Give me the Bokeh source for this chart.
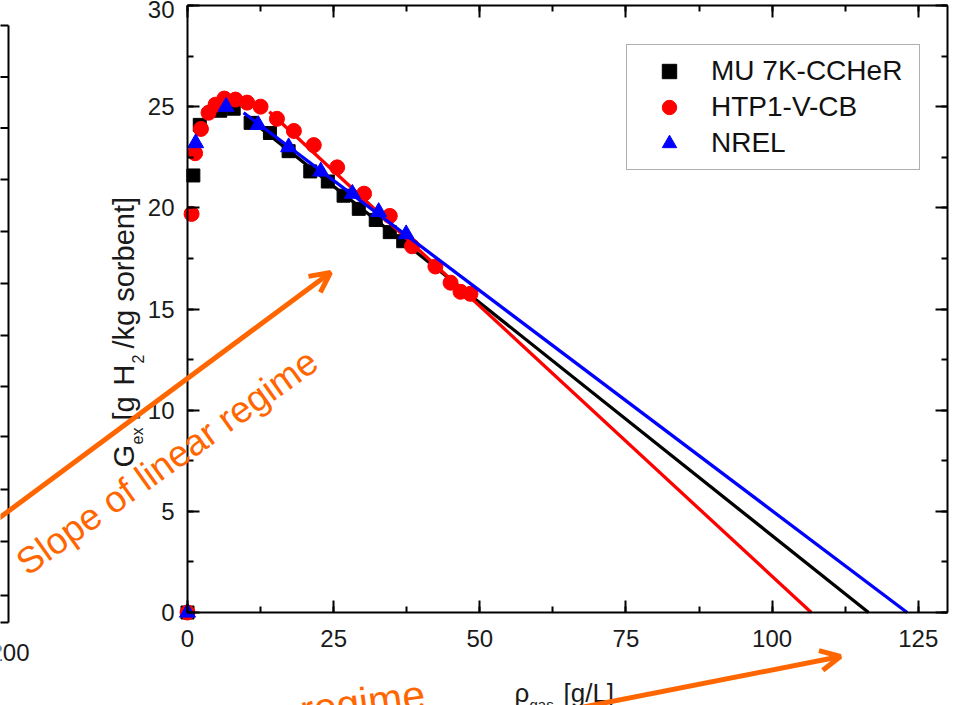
import math

from bokeh.embed import file_html
from bokeh.models import (Arrow, Label, Legend, LegendItem, LinearAxis, OpenHead,
                          Range1d, SingleIntervalTicker)
from bokeh.plotting import figure
from bokeh.resources import INLINE

# Excess hydrogen uptake G_ex [g H2 / kg sorbent] versus gas density rho_gas [g/L]
mu_rho = [0, 1.0, 2.1, 5.6, 7.9, 10.8, 14.1, 17.3, 21.0, 24.0, 26.7, 29.3, 32.2, 34.6, 36.9]
mu_gex = [0, 21.6, 24.1, 24.8, 24.9, 24.2, 23.7, 22.8, 21.8, 21.3, 20.6, 19.95, 19.4, 18.8, 18.35]

htp_rho = [0, 0.7, 1.3, 2.3, 3.6, 4.8, 6.3, 8.2, 10.2, 12.5, 15.3, 18.2, 21.6, 25.6,
           30.2, 34.6, 38.4, 42.4, 45.0, 46.7, 48.4]
htp_gex = [0, 19.7, 22.7, 23.9, 24.7, 25.1, 25.4, 25.35, 25.2, 25.0, 24.4, 23.8, 23.1, 22.0,
           20.7, 19.6, 18.1, 17.1, 16.3, 15.85, 15.75]

nrel_rho = [0, 1.4, 6.6, 12.1, 17.3, 22.8, 28.2, 32.7, 37.4]
nrel_gex = [0, 23.2, 25.0, 24.1, 23.0, 21.8, 20.7, 19.8, 18.7]

# Linear-regime fits, extrapolated to G_ex = 0
mu_fit_rho = [10.5, 116.5]
mu_fit_gex = [24.4, 0]
htp_fit_rho = [14.0, 106.7]
htp_fit_gex = [24.75, 0]
nrel_fit_rho = [9.6, 123.1]
nrel_fit_gex = [24.7, 0]

series_names = ["MU 7K-CCHeR", "HTP1-V-CB", "NREL"]

X_MAX, Y_MAX = 130, 30

# Tick positions (canvas px) on the right edge of the neighbouring panel
side_panel_ticks = [76.6, 127.5, 179, 231, 283, 335, 386, 436, 489, 541, 595]

W, H = 954, 705
FL, FR, FT, FB = 187, 947, 5, 612   # where the axes box sits on the canvas
FONT = "Liberation Sans"
ORANGE = "#FF6600"

# the plotting frame fills the whole canvas; ranges are widened so that the
# axes box (drawn with fixed-location axes) lands at FL..FR, FT..FB
px_x = (FR - FL) / X_MAX
px_y = (FB - FT) / Y_MAX
x_range = Range1d(-FL / px_x, X_MAX + (W - FR) / px_x)
y_range = Range1d(-(H - FB) / px_y, Y_MAX + FT / px_y)

p = figure(width=W, height=H, output_backend="svg", toolbar_location=None,
           x_range=x_range, y_range=y_range,
           x_axis_location=None, y_axis_location=None,
           min_border=0, min_border_left=0, min_border_right=0,
           min_border_top=0, min_border_bottom=0)
p.grid.visible = False
p.outline_line_color = None
p.background_fill_color = "white"
p.border_fill_color = "white"

xt = SingleIntervalTicker(interval=25, num_minor_ticks=2)
yt = SingleIntervalTicker(interval=5, num_minor_ticks=2)


def make_axis(ticker, loc, bounds, labels=True, standoff=10):
    ax = LinearAxis(ticker=ticker, fixed_location=loc, bounds=bounds)
    ax.axis_line_color = "black"
    ax.axis_line_width = 2
    ax.major_tick_in = 12
    ax.major_tick_out = 0
    ax.minor_tick_in = 6
    ax.minor_tick_out = 0
    ax.major_tick_line_width = 2
    ax.minor_tick_line_width = 2
    ax.major_tick_line_color = "black"
    ax.minor_tick_line_color = "black"
    ax.axis_label = None
    if labels:
        ax.major_label_text_font = FONT
        ax.major_label_text_font_size = "24px"
        ax.major_label_text_color = "#1a1a1a"
        ax.major_label_standoff = standoff
    else:
        ax.major_label_text_font_size = "1px"
        ax.major_label_text_color = None
        ax.major_label_standoff = 0
    return ax


p.add_layout(make_axis(xt, 0, (0, X_MAX), standoff=17), "below")
p.add_layout(make_axis(yt, 0, (0, Y_MAX), standoff=13), "left")
p.add_layout(make_axis(xt, Y_MAX, (0, X_MAX), labels=False), "above")
p.add_layout(make_axis(yt, X_MAX, (0, Y_MAX), labels=False), "right")

r_mu = p.scatter(mu_rho, mu_gex, marker="square", size=13, fill_color="black", line_color="black")
p.line(mu_fit_rho, mu_fit_gex, line_width=3.3, line_color="black")
r_htp = p.scatter(htp_rho, htp_gex, marker="circle", size=15, fill_color="#FF0000", line_color="#FF0000")
p.line(htp_fit_rho, htp_fit_gex, line_width=3.3, line_color="#FF0000")
r_nrel = p.scatter(nrel_rho, nrel_gex, marker="triangle", size=16, fill_color="#0000FF", line_color="#0000FF")
p.line(nrel_fit_rho, nrel_fit_gex, line_width=3.3, line_color="#0000FF")

legend = Legend(
    items=[LegendItem(label=series_names[0], renderers=[r_mu]),
           LegendItem(label=series_names[1], renderers=[r_htp]),
           LegendItem(label=series_names[2], renderers=[r_nrel])],
    location=(626, H - 170),
    glyph_width=68, glyph_height=36, label_height=36, label_width=200,
    label_standoff=8, padding=8, spacing=0, margin=0,
    border_line_color="#606060", border_line_width=1,
    background_fill_color="white", background_fill_alpha=1.0,
    label_text_font=FONT, label_text_font_size="28px", label_text_color="#111111")
p.add_layout(legend)


# ---- annotations placed in canvas pixels (y measured from the top)
def text(cx, cy, s, size, angle=0.0, color="#1a1a1a", align="left"):
    p.add_layout(Label(x=cx, y=H - cy, x_units="screen", y_units="screen",
                       text=s, angle=angle, text_font=FONT, text_font_size=f"{size}px",
                       text_color=color, text_align=align, text_baseline="alphabetic"))


def seg(x0, y0, x1, y1, color="black", width=2, head=None):
    p.add_layout(Arrow(x_start=x0, y_start=H - y0, x_end=x1, y_end=H - y1,
                       start_units="screen", end_units="screen", end=head,
                       line_color=color, line_width=width))


# y axis title with subscripts
up = math.pi / 2
text(123, 467, "G", 29, up)
text(137, 444, "ex", 16, up)
text(123, 420, "[g", 29, up)
text(123, 385, "H", 29, up)
text(137, 363, "2", 16, up)
text(123, 348, "/kg sorbent]", 29, up)

# x axis title
text(514, 692, "\u03c1", 26)
text(529, 704, "gas", 15)
text(563, 692, "[g/L]", 26)

# right edge of the neighbouring panel
seg(8, 25, 8, 622)
seg(-2, 25, 8, 25)
seg(-2, 622, 8, 622)
for ty in side_panel_ticks:
    seg(-2, ty, 8, ty)
text(9, 652, "200", 24, align="center")

# orange call-outs
seg(-6, 521, 330, 272, color=ORANGE, width=5,
    head=OpenHead(size=20, line_color=ORANGE, line_width=5))
seg(555, 712, 840, 656, color=ORANGE, width=5,
    head=OpenHead(size=20, line_color=ORANGE, line_width=5))
text(20, 566, "Slope of linear regime", 37, math.radians(35.5), color=ORANGE)
text(300, 710, "regime", 41, math.radians(7.5), color=ORANGE)

open("out.html", "w").write(file_html(p, INLINE))
